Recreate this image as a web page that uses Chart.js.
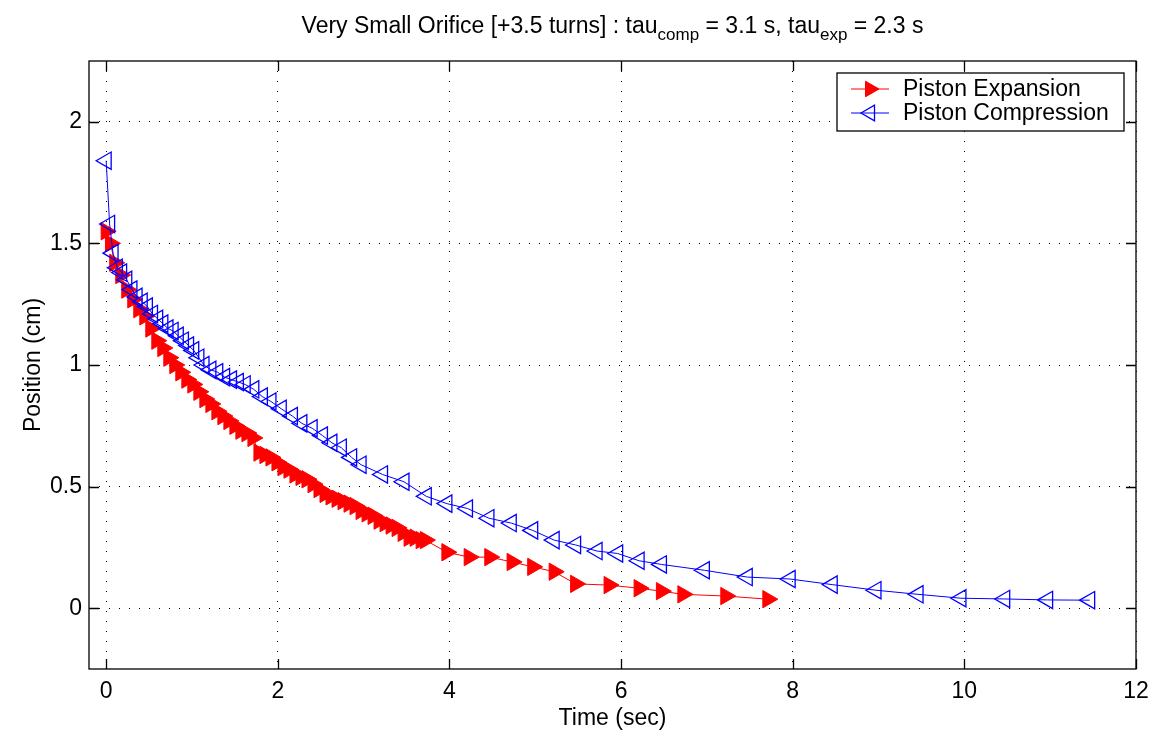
<!DOCTYPE html>
<html>
<head>
<meta charset="utf-8">
<script src="https://cdn.jsdelivr.net/npm/chart.js@4.4.0/dist/chart.umd.min.js"></script>
<style>
html, body { margin: 0; padding: 0; background: #fff; }
</style>
</head>
<body>
<canvas id="myChart" width="1153" height="734"></canvas>
<script>
// piston expansion (red, filled right triangles)
const expTime = [0.00, 0.05, 0.10, 0.17, 0.24, 0.31, 0.38, 0.45, 0.52, 0.59, 0.66, 0.73, 0.80, 0.87, 0.94,
    1.01, 1.08, 1.15, 1.22, 1.29, 1.36, 1.43, 1.50, 1.57, 1.64, 1.71, 1.78, 1.85, 1.92, 1.99,
    2.06, 2.13, 2.20, 2.27, 2.34, 2.41, 2.48, 2.55, 2.62, 2.69, 2.76, 2.83, 2.90, 2.97,
    3.04, 3.11, 3.18, 3.25, 3.32, 3.39, 3.46, 3.53, 3.60, 3.67, 3.72,
    3.97, 4.23, 4.47, 4.73, 4.97, 5.22, 5.47, 5.86, 6.21, 6.47, 6.72, 7.22, 7.71];
const expPos = [1.55, 1.50, 1.42, 1.37, 1.31, 1.27, 1.23, 1.20, 1.15, 1.10, 1.07, 1.03, 1.00, 0.97, 0.94,
    0.92, 0.89, 0.86, 0.84, 0.81, 0.79, 0.77, 0.75, 0.73, 0.72, 0.70, 0.64, 0.63, 0.62, 0.60,
    0.58, 0.57, 0.55, 0.54, 0.53, 0.51, 0.49, 0.47, 0.46, 0.45, 0.44, 0.43, 0.42, 0.40,
    0.39, 0.38, 0.36, 0.35, 0.34, 0.33, 0.31, 0.29, 0.29, 0.28, 0.28,
    0.23, 0.21, 0.21, 0.19, 0.17, 0.15, 0.10, 0.095, 0.082, 0.07, 0.057, 0.05, 0.037];

// piston compression (blue, open left triangles)
const compTime = [0.00, 0.04, 0.08, 0.13, 0.18, 0.24, 0.30, 0.36, 0.42, 0.48, 0.54, 0.60, 0.66, 0.72, 0.78,
    0.84, 0.90, 0.96, 1.02, 1.08, 1.14, 1.22, 1.30, 1.38, 1.46, 1.54, 1.62, 1.72, 1.82, 1.92,
    2.04, 2.17, 2.28, 2.40, 2.52, 2.63, 2.74, 2.86, 2.97, 3.22, 3.47, 3.73, 3.97, 4.21, 4.46,
    4.72, 4.97, 5.22, 5.47, 5.72, 5.96, 6.21, 6.47, 6.97, 7.47, 7.97, 8.46, 8.97, 9.46, 9.96,
    10.47, 10.97, 11.46];
const compPos = [1.84, 1.58, 1.46, 1.40, 1.38, 1.35, 1.31, 1.28, 1.26, 1.24, 1.21, 1.19, 1.17, 1.15, 1.14,
    1.12, 1.10, 1.08, 1.06, 1.03, 1.00, 0.98, 0.97, 0.95, 0.94, 0.93, 0.92, 0.90, 0.87, 0.85,
    0.82, 0.79, 0.76, 0.74, 0.71, 0.68, 0.66, 0.62, 0.59, 0.55, 0.52, 0.46, 0.43, 0.41, 0.37,
    0.35, 0.32, 0.28, 0.26, 0.235, 0.225, 0.195, 0.18, 0.156, 0.128, 0.12, 0.097, 0.074, 0.057, 0.041,
    0.038, 0.034, 0.033];

const xTicks = [0, 2, 4, 6, 8, 10, 12];
const yTicks = [0, 0.5, 1, 1.5, 2];
const seriesNames = ['Piston Expansion', 'Piston Compression'];
const titleParts = [
    ['Very Small Orifice [+3.5 turns] : tau', false],
    ['comp', true],
    [' = 3.1 s, tau', false],
    ['exp', true],
    [' = 2.3 s', false]
];

const FONT = "'Liberation Sans', Arial, Helvetica, sans-serif";
const FS = 23;

function toPoints(xs, ys) {
    return xs.map((t, i) => ({ x: t, y: ys[i] }));
}

// title with subscripts, drawn above the plot box
const titlePlugin = {
    id: 'subTitle',
    afterDraw(chart) {
        const ctx = chart.ctx;
        const a = chart.chartArea;
        ctx.save();
        ctx.fillStyle = '#000';
        ctx.textBaseline = 'alphabetic';
        let total = 0;
        titleParts.forEach(([txt, sub]) => {
            ctx.font = (sub ? 17 : FS) + 'px ' + FONT;
            total += ctx.measureText(txt).width;
        });
        let x = (a.left + a.right) / 2 - total / 2;
        titleParts.forEach(([txt, sub]) => {
            ctx.font = (sub ? 17 : FS) + 'px ' + FONT;
            ctx.fillText(txt, x, sub ? 40 : 33);
            x += ctx.measureText(txt).width;
        });
        ctx.restore();
    }
};

// box around the axes + inward ticks on all four sides
const framePlugin = {
    id: 'frame',
    afterDatasetsDraw(chart) {
        const { ctx, chartArea: a, scales: { x, y } } = chart;
        const tl = 10;
        ctx.save();
        ctx.strokeStyle = '#000';
        ctx.lineWidth = 1.3;
        ctx.strokeRect(a.left, a.top, a.right - a.left, a.bottom - a.top);
        ctx.beginPath();
        xTicks.forEach(v => {
            const px = Math.round(x.getPixelForValue(v)) + 0.5;
            ctx.moveTo(px, a.bottom); ctx.lineTo(px, a.bottom - tl);
            ctx.moveTo(px, a.top); ctx.lineTo(px, a.top + tl);
        });
        yTicks.forEach(v => {
            const py = Math.round(y.getPixelForValue(v)) + 0.5;
            ctx.moveTo(a.left, py); ctx.lineTo(a.left + tl, py);
            ctx.moveTo(a.right, py); ctx.lineTo(a.right - tl, py);
        });
        ctx.stroke();
        ctx.restore();
    }
};

// legend box in the top right corner, like the matlab one
const legendPlugin = {
    id: 'boxLegend',
    afterDraw(chart) {
        const ctx = chart.ctx;
        const bx = 837, by = 73, bw = 287, bh = 58;
        ctx.save();
        ctx.fillStyle = '#fff';
        ctx.fillRect(bx, by, bw, bh);
        ctx.strokeStyle = '#000';
        ctx.lineWidth = 1.3;
        ctx.strokeRect(bx, by, bw, bh);
        chart.data.datasets.forEach((ds, i) => {
            const cy = by + 16 + i * 24;
            ctx.strokeStyle = ds.borderColor;
            ctx.lineWidth = 1;
            ctx.beginPath();
            ctx.moveTo(bx + 14, cy); ctx.lineTo(bx + 52, cy);
            ctx.stroke();
            ctx.fillStyle = ds.pointBackgroundColor;
            ctx.strokeStyle = ds.pointBorderColor;
            ctx.lineWidth = ds.pointBorderWidth;
            Chart.helpers.drawPoint(ctx, {
                pointStyle: 'triangle',
                rotation: ds.pointRotation,
                radius: 9,
                borderWidth: ds.pointBorderWidth
            }, bx + 33, cy);
            ctx.fillStyle = '#000';
            ctx.font = FS + 'px ' + FONT;
            ctx.textBaseline = 'middle';
            ctx.fillText(ds.label, bx + 66, cy + 1);
        });
        ctx.restore();
    }
};

const ctx = document.getElementById('myChart').getContext('2d');

const data = {
    datasets: [{
        label: seriesNames[0],
        data: toPoints(expTime, expPos),
        showLine: true,
        borderColor: '#ff0000',
        borderWidth: 1,
        pointStyle: 'triangle',
        pointRotation: 90,
        pointRadius: 10,
        pointBackgroundColor: '#ff0000',
        pointBorderColor: '#ff0000',
        pointBorderWidth: 1,
        order: 1
    }, {
        label: seriesNames[1],
        data: toPoints(compTime, compPos),
        showLine: true,
        borderColor: '#0000ff',
        borderWidth: 1,
        pointStyle: 'triangle',
        pointRotation: -90,
        pointRadius: 10,
        pointBackgroundColor: 'rgba(0,0,0,0)',
        pointBorderColor: '#0000ff',
        pointBorderWidth: 1.3,
        order: 0
    }]
};

const config = {
    type: 'scatter',
    data: data,
    options: {
        responsive: false,
        animation: false,
        layout: { padding: { top: 61, right: 17, left: 0, bottom: 0 } },
        plugins: {
            legend: { display: false },
            title: { display: false },
            tooltip: { enabled: false }
        },
        scales: {
            x: {
                type: 'linear',
                min: -0.2,
                max: 12,
                afterBuildTicks: (scale) => { scale.ticks = xTicks.map(v => ({ value: v })); },
                afterFit: (scale) => {
                    scale.height = 65;
                    scale.paddingLeft = 0;
                    scale.paddingRight = 0;
                },
                grid: { color: '#000', lineWidth: 1, drawTicks: false },
                border: { display: false, dash: [1, 9] },
                ticks: { color: '#000', padding: 9, maxRotation: 0, font: { family: FONT, size: FS } },
                title: {
                    display: true,
                    text: 'Time (sec)',
                    color: '#000',
                    padding: { top: 0, bottom: 2 },
                    font: { family: FONT, size: FS }
                }
            },
            y: {
                type: 'linear',
                min: -0.25,
                max: 2.25,
                afterBuildTicks: (scale) => { scale.ticks = yTicks.map(v => ({ value: v })); },
                afterFit: (scale) => {
                    scale.width = 89;
                    scale.paddingTop = 0;
                    scale.paddingBottom = 0;
                },
                grid: { color: '#000', lineWidth: 1, drawTicks: false },
                border: { display: false, dash: [1, 9] },
                ticks: {
                    color: '#000',
                    padding: 7,
                    font: { family: FONT, size: FS },
                    callback: (v) => String(v)
                },
                title: {
                    display: true,
                    text: 'Position (cm)',
                    color: '#000',
                    padding: { top: 20, bottom: 0 },
                    font: { family: FONT, size: FS }
                }
            }
        }
    },
    plugins: [framePlugin, titlePlugin, legendPlugin]
};

const myChart = new Chart(ctx, config);
</script>
</body>
</html>
